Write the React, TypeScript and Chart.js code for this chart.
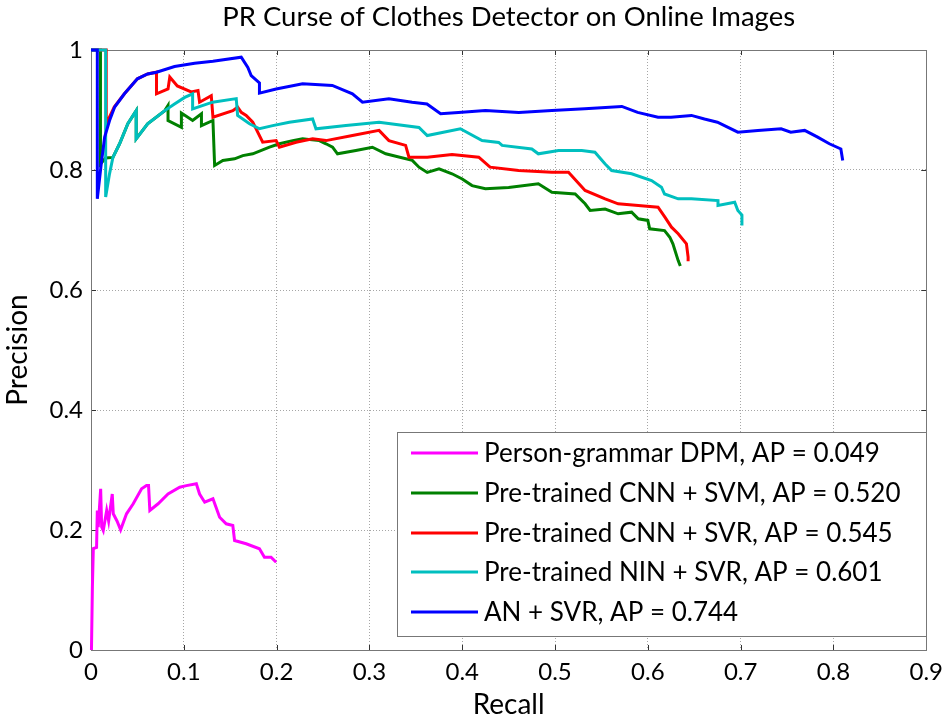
import React, { useEffect, useRef } from "react";
import { Chart, registerables } from "chart.js";
Chart.register(...registerables);

const TITLE = "PR Curse of Clothes Detector on Online Images";
const X_LABEL = "Recall";
const Y_LABEL = "Precision";
const X_TICKS = [0, 0.1, 0.2, 0.3, 0.4, 0.5, 0.6, 0.7, 0.8, 0.9];
const Y_TICKS = [0, 0.2, 0.4, 0.6, 0.8, 1];

const SERIES_NAMES = [
  "Person-grammar DPM, AP = 0.049",
  "Pre-trained CNN + SVM, AP = 0.520",
  "Pre-trained CNN + SVR, AP = 0.545",
  "Pre-trained NIN + SVR, AP = 0.601",
  "AN + SVR, AP = 0.744",
];
const SERIES_COLORS = ["#ff00ff", "#008000", "#ff0000", "#00bfbf", "#0000ff"];

const dpmRecall = [0.0005, 0.0008, 0.0015, 0.0025, 0.006, 0.0068, 0.0078, 0.0104, 0.0115, 0.0132, 0.0169, 0.019, 0.0229, 0.024, 0.028, 0.0319, 0.0383, 0.0455, 0.0545, 0.0598, 0.062, 0.0634, 0.0723, 0.083, 0.0956, 0.1028, 0.1135, 0.117, 0.1225, 0.1314, 0.1386, 0.1457, 0.1528, 0.1547, 0.1672, 0.1815, 0.1869, 0.194, 0.1995];
const dpmPrecision = [0.0, 0.0, 0.105, 0.169, 0.171, 0.2325, 0.2047, 0.2687, 0.205, 0.199, 0.2325, 0.215, 0.26, 0.227, 0.215, 0.2003, 0.227, 0.2437, 0.2687, 0.274, 0.274, 0.2325, 0.2437, 0.26, 0.2713, 0.274, 0.277, 0.26, 0.2463, 0.252, 0.2213, 0.2103, 0.2075, 0.1825, 0.177, 0.1687, 0.1547, 0.1547, 0.1463];

const cnnSvmRecall = [0, 0.0102, 0.0102, 0.0158, 0.0236, 0.0308, 0.0397, 0.0487, 0.0487, 0.061, 0.0795, 0.083, 0.083, 0.0974, 0.0974, 0.1095, 0.119, 0.119, 0.1314, 0.1332, 0.1421, 0.1547, 0.1636, 0.1743, 0.1923, 0.203, 0.2173, 0.228, 0.246, 0.2532, 0.2603, 0.2656, 0.2854, 0.3032, 0.3176, 0.3462, 0.3534, 0.3623, 0.375, 0.389, 0.4, 0.4106, 0.425, 0.45, 0.482, 0.4966, 0.5217, 0.5324, 0.5378, 0.554, 0.568, 0.5825, 0.5897, 0.6, 0.602, 0.618, 0.6237, 0.627, 0.6327, 0.635];
const cnnSvmPrecision = [1, 1, 0.81, 0.82, 0.821, 0.8437, 0.877, 0.899, 0.852, 0.877, 0.899, 0.9075, 0.8825, 0.871, 0.895, 0.8825, 0.8937, 0.874, 0.8825, 0.8075, 0.8158, 0.8187, 0.824, 0.827, 0.838, 0.8437, 0.849, 0.852, 0.849, 0.8437, 0.838, 0.827, 0.8325, 0.838, 0.827, 0.816, 0.8047, 0.796, 0.802, 0.7937, 0.785, 0.774, 0.7687, 0.771, 0.777, 0.763, 0.76, 0.7437, 0.7325, 0.735, 0.727, 0.7297, 0.7187, 0.716, 0.702, 0.699, 0.688, 0.677, 0.649, 0.64];

const cnnSvrRecall = [0, 0.0164, 0.0164, 0.025, 0.036, 0.05, 0.061, 0.0706, 0.0706, 0.083, 0.0849, 0.093, 0.108, 0.1153, 0.117, 0.1296, 0.1314, 0.1528, 0.158, 0.1619, 0.1672, 0.1743, 0.185, 0.1995, 0.203, 0.221, 0.2388, 0.2532, 0.2817, 0.3104, 0.321, 0.339, 0.3426, 0.3623, 0.389, 0.4178, 0.43, 0.4608, 0.4966, 0.5145, 0.5324, 0.554, 0.568, 0.5897, 0.611, 0.6184, 0.6255, 0.6327, 0.6416, 0.6434, 0.6434];
const cnnSvrPrecision = [1, 1, 0.877, 0.905, 0.927, 0.952, 0.96, 0.963, 0.927, 0.935, 0.955, 0.94, 0.93, 0.9325, 0.913, 0.924, 0.888, 0.899, 0.9047, 0.896, 0.891, 0.8797, 0.8463, 0.849, 0.838, 0.8463, 0.852, 0.849, 0.8575, 0.866, 0.849, 0.841, 0.8213, 0.8213, 0.826, 0.8213, 0.8047, 0.799, 0.7963, 0.7963, 0.766, 0.752, 0.7437, 0.741, 0.738, 0.7213, 0.7047, 0.6937, 0.677, 0.6547, 0.648];

const ninSvrRecall = [0, 0.0158, 0.0158, 0.02, 0.0236, 0.0308, 0.0397, 0.0487, 0.0487, 0.061, 0.0795, 0.09, 0.101, 0.1095, 0.1095, 0.131, 0.1565, 0.158, 0.1708, 0.1815, 0.1958, 0.2137, 0.2388, 0.2424, 0.2747, 0.3104, 0.3534, 0.3623, 0.398, 0.4214, 0.4393, 0.443, 0.475, 0.482, 0.5038, 0.5288, 0.543, 0.554, 0.561, 0.5825, 0.604, 0.6147, 0.618, 0.6327, 0.647, 0.6756, 0.6756, 0.6936, 0.697, 0.7014, 0.7014];
const ninSvrPrecision = [1, 1, 0.755, 0.794, 0.821, 0.8437, 0.877, 0.899, 0.852, 0.877, 0.899, 0.91, 0.921, 0.927, 0.902, 0.913, 0.919, 0.891, 0.877, 0.8687, 0.874, 0.8797, 0.885, 0.8687, 0.874, 0.8797, 0.871, 0.8575, 0.8687, 0.849, 0.846, 0.841, 0.835, 0.827, 0.8325, 0.8325, 0.8297, 0.81, 0.799, 0.7937, 0.7825, 0.7713, 0.76, 0.752, 0.752, 0.749, 0.741, 0.7463, 0.7325, 0.725, 0.7075];

const anSvrRecall = [0, 0.0068, 0.0068, 0.011, 0.0147, 0.02, 0.0255, 0.036, 0.05, 0.061, 0.0706, 0.09, 0.1117, 0.1314, 0.1619, 0.169, 0.1726, 0.1815, 0.1815, 0.1995, 0.228, 0.26, 0.2817, 0.2925, 0.321, 0.346, 0.362, 0.3767, 0.396, 0.425, 0.461, 0.4966, 0.532, 0.572, 0.589, 0.611, 0.625, 0.647, 0.661, 0.675, 0.697, 0.7186, 0.7436, 0.754, 0.769, 0.783, 0.7956, 0.808, 0.81];
const anSvrPrecision = [1, 1, 0.752, 0.81, 0.855, 0.8825, 0.905, 0.927, 0.952, 0.96, 0.963, 0.9725, 0.978, 0.9813, 0.988, 0.971, 0.9575, 0.945, 0.928, 0.935, 0.9437, 0.941, 0.927, 0.913, 0.9187, 0.913, 0.91, 0.8937, 0.896, 0.899, 0.896, 0.899, 0.902, 0.906, 0.896, 0.888, 0.888, 0.891, 0.885, 0.8797, 0.863, 0.866, 0.8687, 0.863, 0.866, 0.8547, 0.8437, 0.835, 0.816];

const SERIES_X = [dpmRecall, cnnSvmRecall, cnnSvrRecall, ninSvrRecall, anSvrRecall];
const SERIES_Y = [dpmPrecision, cnnSvmPrecision, cnnSvrPrecision, ninSvrPrecision, anSvrPrecision];

const FONT = "Lato";

const decorPlugin = {
  id: "decor",
  beforeDatasetsDraw(chart: any) {
    const { ctx, chartArea: a, scales } = chart;
    ctx.save();
    ctx.strokeStyle = "#333";
    ctx.lineWidth = 1;
    ctx.beginPath();
    for (const t of X_TICKS) {
      const px = Math.round(scales.x.getPixelForValue(t)) + 0.5;
      ctx.moveTo(px, a.bottom);
      ctx.lineTo(px, a.bottom - 5);
      ctx.moveTo(px, a.top);
      ctx.lineTo(px, a.top + 5);
    }
    for (const t of Y_TICKS) {
      const py = Math.round(scales.y.getPixelForValue(t)) + 0.5;
      ctx.moveTo(a.left, py);
      ctx.lineTo(a.left + 5, py);
      ctx.moveTo(a.right, py);
      ctx.lineTo(a.right - 5, py);
    }
    ctx.stroke();
    ctx.strokeStyle = "#777";
    ctx.strokeRect(Math.round(a.left) + 0.5, Math.round(a.top) + 0.5, Math.round(a.right - a.left), Math.round(a.bottom - a.top));
    ctx.restore();
  },
  afterDraw(chart: any) {
    const { ctx, chartArea: a } = chart;
    ctx.save();
    ctx.fillStyle = "#000";
    ctx.font = `27.5px ${FONT}`;
    ctx.textAlign = "center";
    ctx.textBaseline = "middle";
    ctx.fillText(TITLE, (a.left + a.right) / 2, 17);

    // legend
    const lx = 397.5, ly = 432.5, lw = 529, lh = 204;
    ctx.fillStyle = "#fff";
    ctx.fillRect(lx, ly, lw, lh);
    ctx.strokeStyle = "#777";
    ctx.lineWidth = 1;
    ctx.strokeRect(lx, ly, lw, lh);
    const rows = [453, 493, 533, 572, 612];
    ctx.font = `26px ${FONT}`;
    ctx.textAlign = "left";
    ctx.textBaseline = "middle";
    SERIES_NAMES.forEach((name, i) => {
      ctx.strokeStyle = SERIES_COLORS[i];
      ctx.lineWidth = 3;
      ctx.beginPath();
      ctx.moveTo(411, rows[i]);
      ctx.lineTo(478, rows[i]);
      ctx.stroke();
      ctx.fillStyle = "#000";
      ctx.fillText(name, 484, rows[i] + 1);
    });
    ctx.restore();
  },
};

export default function App() {
  const ref = useRef<HTMLCanvasElement | null>(null);
  useEffect(() => {
    if (!ref.current) return;
    const datasets = SERIES_NAMES.map((name, i) => ({
      label: name,
      data: SERIES_X[i].map((x, j) => ({ x, y: SERIES_Y[i][j] })),
      borderColor: SERIES_COLORS[i],
      backgroundColor: SERIES_COLORS[i],
      borderWidth: 3,
      pointRadius: 0,
      tension: 0,
      fill: false,
      clip: false as any,
      order: SERIES_NAMES.length - 1 - i,
      borderJoinStyle: "miter" as const,
    }));
    const chart = new Chart(ref.current, {
      type: "line",
      data: { datasets },
      plugins: [decorPlugin],
      options: {
        responsive: false,
        animation: false,
        devicePixelRatio: 1,
        layout: { padding: { top: 50, right: 22, left: 0, bottom: 0 } },
        plugins: { legend: { display: false }, tooltip: { enabled: false }, title: { display: false } },
        scales: {
          x: {
            type: "linear",
            min: 0,
            max: 0.9,
            afterFit: (s: any) => { s.height = 69; },
            afterBuildTicks: (s: any) => { s.ticks = X_TICKS.map((v) => ({ value: v })); },
            ticks: {
              color: "#000",
              font: { family: FONT, size: 24 },
              padding: 8,
              maxRotation: 0,
              autoSkip: false,
              callback: (v: any) => String(Number(Number(v).toFixed(1))),
            },
            grid: { color: "rgba(0,0,0,0.35)", drawTicks: false, lineWidth: 1 },
            border: { display: false, dash: [1, 2] },
            title: { display: true, text: X_LABEL, color: "#000", font: { family: FONT, size: 28 }, padding: { top: 0, bottom: -3 } },
          },
          y: {
            type: "linear",
            min: 0,
            max: 1,
            afterFit: (s: any) => { s.width = 91; },
            afterBuildTicks: (s: any) => { s.ticks = Y_TICKS.map((v) => ({ value: v })); },
            ticks: {
              color: "#000",
              font: { family: FONT, size: 24 },
              padding: 8,
              callback: (v: any) => String(Number(Number(v).toFixed(1))),
            },
            grid: { color: "rgba(0,0,0,0.35)", drawTicks: false, lineWidth: 1 },
            border: { display: false, dash: [1, 2] },
            title: { display: true, text: Y_LABEL, color: "#000", font: { family: FONT, size: 28 }, padding: { top: 1, bottom: 0 } },
          },
        },
      },
    });
    return () => chart.destroy();
  }, []);
  return (
    <div style={{ position: "absolute", left: 0, top: 0, width: 951, height: 719, background: "#fff" }}>
      <canvas ref={ref} width={951} height={719} style={{ display: "block" }} />
    </div>
  );
}
